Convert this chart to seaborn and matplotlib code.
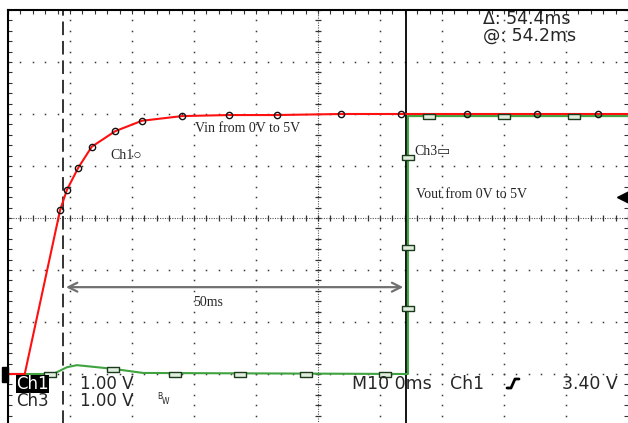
import numpy as np
import matplotlib
matplotlib.use('Agg')
import matplotlib.pyplot as plt
import seaborn as sns
from matplotlib.patches import Rectangle
from matplotlib.lines import Line2D

# scope capture: time in ms (0 = trigger), volts (1 V/div)
red_t = [-10, -7.3, -1.6, -0.5, 1.3, 3.5, 7.3, 11.6, 18.1, 25.6, 33.4, 43.7, 53.4, 64.0, 75.3, 85.2, 90]
red_v = [0, 0, 3.15, 3.54, 3.96, 4.37, 4.67, 4.87, 4.96, 4.98, 4.98, 5.0, 5.0, 5.0, 5.0, 5.0, 5.0]
red_mark_t = [-1.6, -0.5, 1.3, 3.5, 7.3, 11.6, 18.1, 25.6, 33.4, 43.7, 53.4, 64.0, 75.3, 85.2]
red_mark_v = [3.15, 3.54, 3.96, 4.37, 4.67, 4.87, 4.96, 4.98, 4.98, 5.0, 5.0, 5.0, 5.0, 5.0]

green_t = [-10, -2.7, -0.5, 1.1, 6.9, 11.8, 54.5, 54.5, 90]
green_v = [0, 0, 0.13, 0.17, 0.10, 0.02, 0, 4.96, 4.96]
green_mark_t = [-3.2, 6.9, 16.9, 27.4, 38.1, 50.8, 54.5, 54.5, 54.5, 57.9, 70.0, 81.3]
green_mark_v = [0, 0.10, 0, 0, 0, 0, 1.27, 2.44, 4.17, 4.97, 4.97, 4.97]

cursor_t = [-1.1, 54.2]
trig_level = 3.4

sns.set_style('white')
fig = plt.figure(figsize=(6.28, 4.23), dpi=100)
ax = fig.add_axes([8 / 628, -3 / 423, 620 / 628, 416 / 423])
ax.set_xlim(-10, 90)
ax.set_ylim(-1, 7)


def fx(px):
    return px / 628


def fy(py):
    return 1 - py / 423


# graticule dots
dot_c = '#3a3a3a'
for gx in np.arange(0, 90, 10):
    if gx == 40:
        continue
    vv = np.arange(-1, 7.01, 0.2)
    ax.plot(np.full_like(vv, gx), vv, ls='', marker='s', ms=1.1, color=dot_c, mew=0, zorder=1)
for gy in np.arange(0, 7, 1):
    if gy == 3:
        continue
    tt = np.arange(-10, 90.01, 2)
    ax.plot(tt, np.full_like(tt, gy), ls='', marker='s', ms=1.1, color=dot_c, mew=0, zorder=1)

# centre lines with small ticks
ax.axvline(40, color='#555555', lw=0.8, ls=(0, (1, 1.2)), zorder=1)
ax.axhline(3, color='#555555', lw=0.8, ls=(0, (1, 1.2)), zorder=1)
vv = np.arange(-1, 7.01, 0.2)
ax.plot(np.full_like(vv, 40), vv, ls='', marker='_', ms=5, mew=0.9, color='#333333', zorder=1)
tt = np.arange(-10, 90.01, 2)
ax.plot(tt, np.full_like(tt, 3), ls='', marker='|', ms=5, mew=0.9, color='#333333', zorder=1)

# border ticks
ax.set_xticks(np.arange(-10, 91, 10))
ax.set_xticks(np.arange(-10, 91, 2), minor=True)
ax.set_yticks(np.arange(-1, 7.1, 1))
ax.set_yticks(np.arange(-1, 7.1, 0.2), minor=True)
ax.tick_params(which='both', direction='in', top=True, bottom=False, left=True, right=True,
               labelleft=False, labelbottom=False, length=3, width=0.8, color='#333333')
for s in ['right', 'bottom']:
    ax.spines[s].set_visible(False)
for s in ['left', 'top']:
    ax.spines[s].set_color('black')
    ax.spines[s].set_linewidth(1.5)

# cursors
ax.axvline(cursor_t[0], color='#333333', lw=1.4, ls=(0, (7, 3)), zorder=2)
ax.axvline(cursor_t[1], color='black', lw=1.3, zorder=2)

# traces
sns.lineplot(x=green_t, y=green_v, sort=False, estimator=None, color='#3fa33f', lw=1.5, ax=ax, zorder=3)
sns.lineplot(x=red_t, y=red_v, sort=False, estimator=None, color='#ff1010', lw=1.5, ax=ax, zorder=4)

rect_marker = [(-1, -0.45), (1, -0.45), (1, 0.45), (-1, 0.45), (-1, -0.45)]
sns.lineplot(x=green_mark_t, y=green_mark_v, sort=False, estimator=None, ls='', marker=rect_marker,
             ms=8, markerfacecolor='#dfeedd', markeredgecolor='#1c3a1c', markeredgewidth=1, ax=ax, zorder=5)
sns.lineplot(x=red_mark_t, y=red_mark_v, sort=False, estimator=None, ls='', marker='o',
             ms=4.5, markerfacecolor='none', markeredgecolor='#111111', markeredgewidth=1, ax=ax, zorder=6)

# 50ms span arrow
ax.annotate('', xy=(cursor_t[0], 1.67), xytext=(cursor_t[1], 1.67),
            arrowprops=dict(arrowstyle='<->', color='#707070', lw=1.6, mutation_scale=16), zorder=5)

serif = ['Liberation Serif', 'DejaVu Sans']
ax.text(20.2, 4.73, 'Vin from 0V to 5V', family=serif, fontsize=10, va='center', ha='left', zorder=7)
ax.text(6.5, 4.21, 'Ch1\u25cb', family=serif, fontsize=10, va='center', ha='left', zorder=7)
ax.text(55.6, 4.27, 'Ch3\u25ad', family=serif, fontsize=10, va='center', ha='left', zorder=7)
ax.text(55.8, 3.46, 'Vout from 0V to 5V', family=serif, fontsize=10, va='center', ha='left', zorder=7)
ax.text(19.8, 1.38, '50ms', family=serif, fontsize=10, va='center', ha='left', zorder=7)

# trigger level arrow at right edge
ax.plot([89.2], [trig_level], marker='<', ms=8, color='black', ls='', clip_on=False, zorder=7)

# ground marker at left edge
fig.add_artist(Rectangle((fx(2), fy(382)), 6 / 628, 15 / 423, color='black'))

# readouts
fs = 12
fig.text(fx(16), fy(383.5), 'Ch1', color='white', fontsize=fs, va='center', ha='left',
         bbox=dict(boxstyle='square,pad=0.0', fc='black', ec='none'))
fig.text(fx(80), fy(383.5), '1.00 V', fontsize=fs, va='center', ha='left')
fig.text(fx(16), fy(400.5), 'Ch3', fontsize=fs, va='center', ha='left')
fig.text(fx(80), fy(400.5), '1.00 V', fontsize=fs, va='center', ha='left')
fig.text(fx(157), fy(396), 'B', fontsize=5.5, va='center', ha='left')
fig.text(fx(162), fy(401), 'W', fontsize=5.5, va='center', ha='left')
fig.text(fx(352), fy(383.5), 'M10 0ms', fontsize=12.5, va='center', ha='left')
fig.text(fx(450), fy(383.5), 'Ch1', fontsize=12.5, va='center', ha='left')
fig.add_artist(Line2D([fx(507), fx(511), fx(515), fx(519)], [fy(388), fy(388), fy(379), fy(379)],
                      color='black', lw=2))
fig.text(fx(562), fy(383.5), '3.40 V', fontsize=12.5, va='center', ha='left')
fig.text(fx(483), fy(19), '\u0394: 54.4ms', fontsize=12.5, va='center', ha='left')
fig.text(fx(483), fy(36), '@: 54.2ms', fontsize=12.5, va='center', ha='left')

fig.savefig('out.png', dpi=100)
